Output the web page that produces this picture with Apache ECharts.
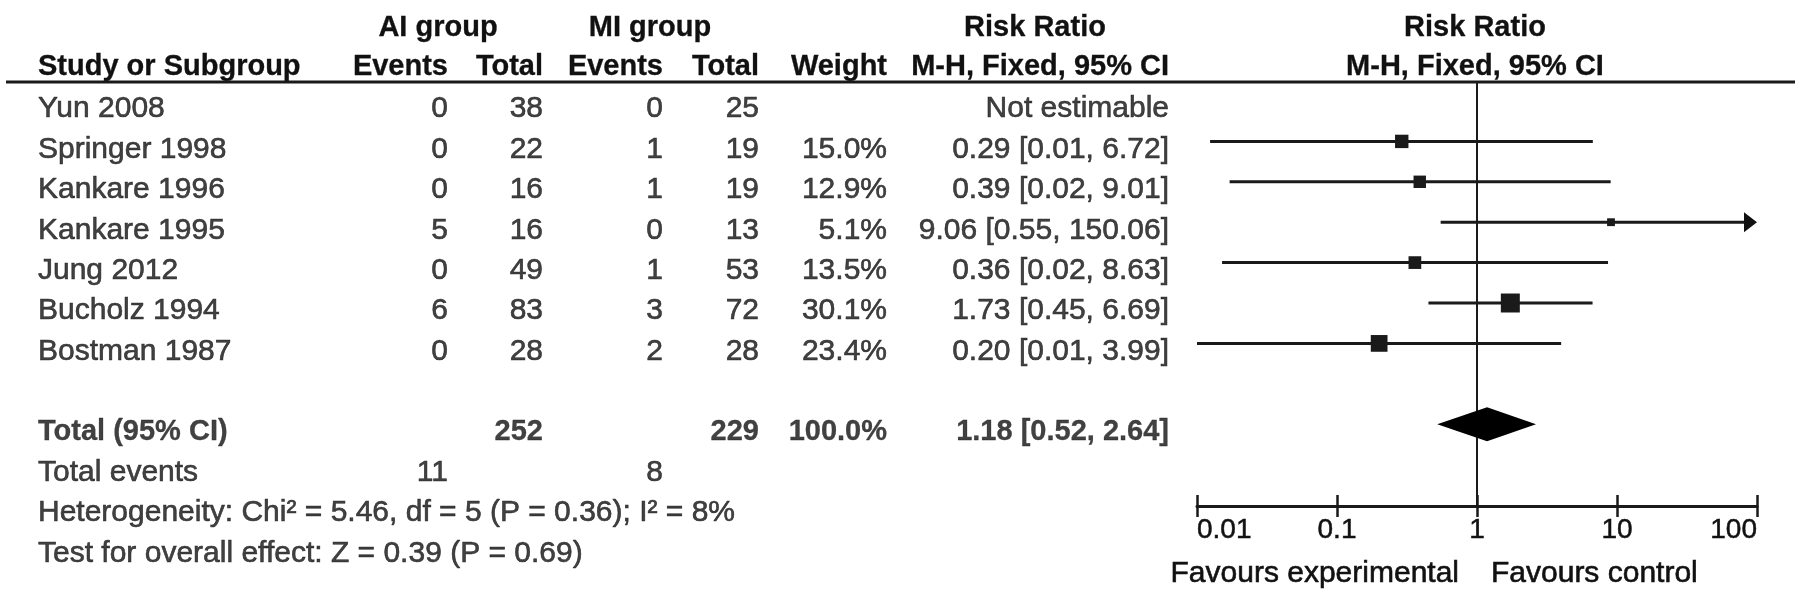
<!DOCTYPE html>
<html>
<head>
<meta charset="utf-8">
<script src="https://cdn.jsdelivr.net/npm/echarts@6/dist/echarts.min.js"></script>
<style>
html,body{margin:0;padding:0;background:#fff;}
#chart{width:1795px;height:601px;}
</style>
</head>
<body>
<div id="chart"></div>
<script>
// ---------------- data ----------------
const studies   = ['Yun 2008','Springer 1998','Kankare 1996','Kankare 1995','Jung 2012','Bucholz 1994','Bostman 1987'];
const aiEvents  = [0, 0, 0, 5, 0, 6, 0];
const aiTotal   = [38, 22, 16, 16, 49, 83, 28];
const miEvents  = [0, 1, 1, 0, 1, 3, 2];
const miTotal   = [25, 19, 19, 13, 53, 72, 28];
const weights   = [null, 15.0, 12.9, 5.1, 13.5, 30.1, 23.4];
const riskRatio = [null, 0.29, 0.39, 9.06, 0.36, 1.73, 0.20];
const ciLow     = [null, 0.0124, 0.0171, 0.55, 0.0151, 0.45, 0.0100];
const ciHigh    = [null, 6.72, 9.01, 150.06, 8.63, 6.69, 3.99];

const totalAI = 252, totalMI = 229, totalWeight = 100.0;
const totalRR = 1.18, totalLow = 0.52, totalHigh = 2.64;
const eventsAI = 11, eventsMI = 8;
const heterogeneityText = 'Heterogeneity: Chi\u00b2 = 5.46, df = 5 (P = 0.36); I\u00b2 = 8%';
const overallText = 'Test for overall effect: Z = 0.39 (P = 0.69)';
const xTicks = [0.01, 0.1, 1, 10, 100];
const favours = ['Favours experimental', 'Favours control'];

// ---------------- layout ----------------
const W = 1795, H = 601;
const ROW_Y0 = 101, ROW_H = 40.4, TEXT_DY = 0.2;
const PLOT_TOP = 82, PLOT_BOTTOM = 506, PLOT_LEFT = 1197, PLOT_RIGHT = 1757;
const TOTAL_ROW = 8, EVENTS_ROW = 9, HET_ROW = 10, TEST_ROW = 11;
const FONT = '"Liberation Sans", Arial, Helvetica, sans-serif';
const TXT = '#111';
const REG = 30, BOLD = 29;
const col = {label: 38, aiEv: 448, aiTot: 543, miEv: 663, miTot: 759, weight: 887, ci: 1169};

const fmtCI = (r, l, h) => r.toFixed(2) + ' [' + l.toFixed(2) + ', ' + h.toFixed(2) + ']';

function textSeries(x, rows, texts, align, bold) {
  return {
    type: 'scatter', xAxisIndex: 0, yAxisIndex: 0, silent: true,
    symbolSize: 1, itemStyle: {color: 'rgba(0,0,0,0)'},
    data: rows.map((r, i) => ({value: [x, r + TEXT_DY], label: {formatter: String(texts[i])}})),
    label: {show: true, position: 'inside', align: align, verticalAlign: 'middle',
      fontFamily: FONT, fontSize: bold ? BOLD : REG, fontWeight: bold ? 'bold' : 'normal', color: TXT,
      textBorderColor: TXT, textBorderWidth: bold ? 0.3 : 0.6}
  };
}

const rowIdx = studies.map((s, i) => i);
const ciText = studies.map((s, i) => riskRatio[i] == null ? 'Not estimable' : fmtCI(riskRatio[i], ciLow[i], ciHigh[i]));
const wText = weights.map(w => w == null ? '' : w.toFixed(1) + '%');

const series = [
  textSeries(col.label, rowIdx, studies, 'left', false),
  textSeries(col.aiEv, rowIdx, aiEvents, 'right', false),
  textSeries(col.aiTot, rowIdx, aiTotal, 'right', false),
  textSeries(col.miEv, rowIdx, miEvents, 'right', false),
  textSeries(col.miTot, rowIdx, miTotal, 'right', false),
  textSeries(col.weight, rowIdx, wText, 'right', false),
  textSeries(col.ci, rowIdx, ciText, 'right', false),
  textSeries(col.label, [TOTAL_ROW], ['Total (95% CI)'], 'left', true),
  textSeries(col.aiTot, [TOTAL_ROW], [totalAI], 'right', true),
  textSeries(col.miTot, [TOTAL_ROW], [totalMI], 'right', true),
  textSeries(col.weight, [TOTAL_ROW], [totalWeight.toFixed(1) + '%'], 'right', true),
  textSeries(col.ci, [TOTAL_ROW], [fmtCI(totalRR, totalLow, totalHigh)], 'right', true),
  textSeries(col.label, [EVENTS_ROW, HET_ROW, TEST_ROW], ['Total events', heterogeneityText, overallText], 'left', false),
  textSeries(col.aiEv, [EVENTS_ROW], [eventsAI], 'right', false),
  textSeries(col.miEv, [EVENTS_ROW], [eventsMI], 'right', false)
];

const forestData = [];
studies.forEach((s, i) => {
  if (riskRatio[i] != null) forestData.push([i, riskRatio[i], ciLow[i], ciHigh[i], weights[i], 0]);
});
forestData.push([TOTAL_ROW, totalRR, totalLow, totalHigh, totalWeight, 1]);

series.push({
  type: 'custom', xAxisIndex: 1, yAxisIndex: 1, silent: true,
  encode: {x: [1, 2, 3], y: 0},
  data: forestData,
  renderItem: function (params, api) {
    const idx = api.value(0), r = api.value(1), lo = api.value(2), hi = api.value(3), w = api.value(4), isTotal = api.value(5);
    const cs = params.coordSys;
    const xMin = cs.x, xMax = cs.x + cs.width;
    const pL = api.coord([lo, idx]), pH = api.coord([hi, idx]), pR = api.coord([r, idx]);
    const y = pR[1];
    const children = [];
    if (isTotal) {
      const hh = 17;
      children.push({type: 'polygon', shape: {points: [[pL[0], y], [pR[0], y - hh], [pH[0], y], [pR[0], y + hh]]},
        style: {fill: '#000'}});
    } else {
      const x1 = Math.max(pL[0], xMin), x2 = Math.min(pH[0], xMax);
      const endX = pH[0] > xMax ? xMax - 10 : x2;
      children.push({type: 'line', shape: {x1: x1, y1: y, x2: endX, y2: y}, style: {stroke: '#1a1a1a', lineWidth: 3}});
      if (pH[0] > xMax) {
        children.push({type: 'polygon', shape: {points: [[xMax, y], [xMax - 13, y - 10], [xMax - 13, y + 10]]}, style: {fill: '#111'}});
      }
      const s = 3.46 * Math.sqrt(w);
      children.push({type: 'rect', shape: {x: pR[0] - s / 2, y: y - s / 2, width: s, height: s}, style: {fill: '#1a1a1a'}});
    }
    return {type: 'group', children: children};
  },
  markLine: {
    silent: true, symbol: 'none', label: {show: false},
    lineStyle: {color: '#1a1a1a', width: 2, type: 'solid'},
    data: [{xAxis: 1}]
  },
  z: 5
});

const plotGrid = {left: PLOT_LEFT, right: W - PLOT_RIGHT, top: PLOT_TOP, bottom: H - PLOT_BOTTOM};
const option = {
  backgroundColor: '#fff',
  animation: false,
  grid: [
    {left: 0, right: 0, top: 0, bottom: 0},
    plotGrid,
    Object.assign({}, plotGrid)
  ],
  xAxis: [
    {gridIndex: 0, type: 'value', min: 0, max: W, show: false},
    {gridIndex: 1, type: 'log', logBase: 10, min: xTicks[0], max: xTicks[xTicks.length - 1], position: 'bottom',
      axisLine: {show: true, onZero: false, lineStyle: {color: '#1a1a1a', width: 3}},
      axisTick: {show: true, length: 11, lineStyle: {color: '#1a1a1a', width: 2.5}},
      splitLine: {show: false}, minorTick: {show: false},
      axisLabel: {show: true, margin: 10, color: TXT, fontFamily: FONT, fontSize: 28,
        textBorderColor: TXT, textBorderWidth: 0.5,
        alignMinLabel: 'left', alignMaxLabel: 'right',
        formatter: v => String(+(+v).toPrecision(6))}
    },
    {gridIndex: 2, type: 'log', logBase: 10, min: xTicks[0], max: xTicks[xTicks.length - 1], position: 'bottom',
      axisLine: {show: false, onZero: false},
      axisTick: {show: true, inside: true, length: 11, lineStyle: {color: '#1a1a1a', width: 2.5}},
      splitLine: {show: false}, minorTick: {show: false}, axisLabel: {show: false}
    }
  ],
  yAxis: [
    {gridIndex: 0, type: 'value', inverse: true, min: -ROW_Y0 / ROW_H, max: (H - ROW_Y0) / ROW_H, show: false},
    {gridIndex: 1, type: 'value', inverse: true, min: (PLOT_TOP - ROW_Y0) / ROW_H, max: (PLOT_BOTTOM - ROW_Y0) / ROW_H, show: false},
    {gridIndex: 2, type: 'value', min: 0, max: 1, show: false}
  ],
  series: series,
  graphic: []
};

function hText(text, x, y, align, bold, size) {
  return {type: 'text', x: x, y: y, silent: true,
    style: {text: text, textAlign: align, textVerticalAlign: 'middle', fill: TXT,
      stroke: TXT, lineWidth: bold ? 0.3 : 0.6,
      font: (bold ? 'bold ' : '') + (size || (bold ? BOLD : REG)) + 'px ' + FONT}};
}
option.graphic = [
  hText('AI group', 438, 28, 'center', true),
  hText('MI group', 650, 28, 'center', true),
  hText('Risk Ratio', 1035, 28, 'center', true),
  hText('Risk Ratio', 1475, 28, 'center', true),
  hText('Study or Subgroup', col.label, 67, 'left', true),
  hText('Events', col.aiEv, 67, 'right', true),
  hText('Total', col.aiTot, 67, 'right', true),
  hText('Events', col.miEv, 67, 'right', true),
  hText('Total', col.miTot, 67, 'right', true),
  hText('Weight', col.weight, 67, 'right', true),
  hText('M-H, Fixed, 95% CI', col.ci, 67, 'right', true),
  hText('M-H, Fixed, 95% CI', 1475, 67, 'center', true),
  {type: 'line', silent: true, shape: {x1: 6, y1: PLOT_TOP, x2: W, y2: PLOT_TOP}, style: {stroke: '#1a1a1a', lineWidth: 3}},
  hText(favours[0], 1459, 574, 'right', false),
  hText(favours[1], 1491, 574, 'left', false)
];

const chart = echarts.init(document.getElementById('chart'), null, {renderer: 'canvas'});
chart.setOption(option);
</script>
</body>
</html>
